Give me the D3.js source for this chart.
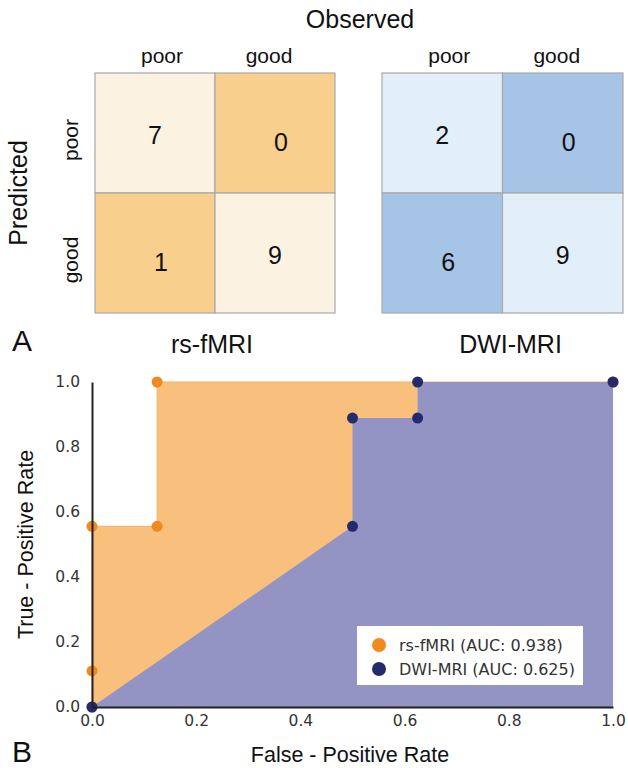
<!DOCTYPE html>
<html>
<head>
<meta charset="utf-8">
<script src="https://cdn.jsdelivr.net/npm/d3@7"></script>
<style>
  body { margin: 0; background: #fff; }
  svg { display: block; }
  .sans { font-family: "Liberation Sans", Arial, sans-serif; }
  .dv { font-family: "DejaVu Sans", sans-serif; }
</style>
</head>
<body>
<svg id="fig" width="628" height="768"></svg>
<script>
// confusion matrices (rows = predicted, cols = observed)
var classes = ["poor", "good"];
var models = ["rs-fMRI", "DWI-MRI"];
var rsCounts = [[7, 0], [1, 9]];
var dwiCounts = [[2, 0], [6, 9]];

// ROC curves
var rsFpr = [0, 0, 0, 0.125, 0.125, 1];
var rsTpr = [0, 0.111, 0.556, 0.556, 1, 1];
var dwiFpr = [0, 0.5, 0.5, 0.625, 0.625, 1];
var dwiTpr = [0, 0.556, 0.889, 0.889, 1, 1];
var aucLabels = ["rs-fMRI (AUC: 0.938)", "DWI-MRI (AUC: 0.625)"];
var rocTicks = [0, 0.2, 0.4, 0.6, 0.8, 1.0];

var svg = d3.select("#fig");

// ---------- panel A ----------
var matrices = [
  { name: models[0], counts: rsCounts, x0: 95, x1: 335, colors: ["#fcf2e1", "#f8cf8d"] },
  { name: models[1], counts: dwiCounts, x0: 382, x1: 623, colors: ["#e2eef8", "#a6c4e5"] }
];
var rowScale = d3.scaleBand().domain(classes).range([73, 313]);

svg.append("text").attr("class", "sans")
  .attr("x", 360).attr("y", 28)
  .attr("text-anchor", "middle").attr("font-size", 25).attr("fill", "#111")
  .text("Observed");

svg.append("text").attr("class", "sans")
  .attr("transform", "translate(27,193) rotate(-90)")
  .attr("text-anchor", "middle").attr("font-size", 25).attr("fill", "#111")
  .text("Predicted");

// row labels, rotated
svg.append("g").selectAll("text")
  .data(classes)
  .enter().append("text")
  .attr("class", "sans")
  .attr("transform", d => "translate(78," + (rowScale(d) + rowScale.bandwidth() / 2 + 7) + ") rotate(-90)")
  .attr("text-anchor", "middle").attr("font-size", 21).attr("fill", "#111")
  .text(d => d);

matrices.forEach(function(m) {
  var colScale = d3.scaleBand().domain(classes).range([m.x0, m.x1]);
  var g = svg.append("g");

  g.selectAll("text.col")
    .data(classes)
    .enter().append("text")
    .attr("class", "col sans")
    .attr("x", d => colScale(d) + colScale.bandwidth() / 2 + (d == "good" ? -6 : 7))
    .attr("y", 63)
    .attr("text-anchor", "middle").attr("font-size", 21).attr("fill", "#111")
    .text(d => d);

  var cells = [];
  m.counts.forEach(function(row, i) {
    row.forEach(function(v, j) { cells.push({ r: classes[i], c: classes[j], v: v, diag: i == j }); });
  });

  g.selectAll("rect")
    .data(cells)
    .enter().append("rect")
    .attr("x", d => colScale(d.c))
    .attr("y", d => rowScale(d.r))
    .attr("width", colScale.bandwidth())
    .attr("height", rowScale.bandwidth())
    .attr("fill", d => d.diag ? m.colors[0] : m.colors[1])
    .attr("stroke", "#a9a9a9")
    .attr("stroke-width", 1.2);

  g.selectAll("text.val")
    .data(cells)
    .enter().append("text")
    .attr("class", "val sans")
    .attr("x", d => colScale(d.c) + colScale.bandwidth() / 2 + (d.diag ? 0 : 6))
    .attr("y", d => rowScale(d.r) + rowScale.bandwidth() / 2 + (d.diag ? 2 : 9))
    .attr("dy", "0.36em")
    .attr("text-anchor", "middle").attr("font-size", 25).attr("fill", "#111")
    .text(d => d.v);

  g.append("text").attr("class", "sans")
    .attr("x", (m.x0 + m.x1) / 2 + (m.name == "rs-fMRI" ? -3 : 8))
    .attr("y", 353)
    .attr("text-anchor", "middle").attr("font-size", 25).attr("fill", "#111")
    .text(m.name);
});

svg.append("text").attr("class", "sans")
  .attr("x", 12).attr("y", 351).attr("font-size", 30).attr("fill", "#111")
  .text("A");

// ---------- panel B ----------
var x = d3.scaleLinear().domain([0, 1]).range([92, 613]);
var y = d3.scaleLinear().domain([0, 1]).range([707, 382]);

var rs = rsFpr.map((f, i) => ({ f: f, t: rsTpr[i] }));
var dwi = dwiFpr.map((f, i) => ({ f: f, t: dwiTpr[i] }));

var area = d3.area()
  .x(d => x(d.f))
  .y0(y(0))
  .y1(d => y(d.t));

var plot = svg.append("g");

plot.append("path").datum(rs)
  .attr("d", area).attr("fill", "#f8c07c");
plot.append("path").datum(rs)
  .attr("d", area.lineY1()).attr("fill", "none")
  .attr("stroke", "#f2b06a").attr("stroke-width", 1);
plot.append("path").datum(dwi)
  .attr("d", area).attr("fill", "#9394c3");

plot.append("g").selectAll("circle")
  .data(rs)
  .enter().append("circle")
  .attr("cx", d => x(d.f)).attr("cy", d => y(d.t))
  .attr("r", 5.5).attr("fill", "#f0891f");

plot.append("g").selectAll("circle")
  .data(dwi)
  .enter().append("circle")
  .attr("cx", d => x(d.f)).attr("cy", d => y(d.t))
  .attr("r", 5.5).attr("fill", "#252a6c");

// axes
var yAxis = svg.append("g")
  .attr("transform", "translate(" + x(0) + ",0)")
  .call(d3.axisLeft(y).tickValues(rocTicks).tickFormat(d3.format(".1f")).tickSize(0).tickPadding(12));
var xAxis = svg.append("g")
  .attr("transform", "translate(0," + y(0) + ")")
  .call(d3.axisBottom(x).tickValues(rocTicks).tickFormat(d3.format(".1f")).tickSize(0).tickPadding(8));

[xAxis, yAxis].forEach(function(a) {
  a.select(".domain").attr("stroke", "#222").attr("stroke-width", 2);
  a.selectAll("text").attr("class", "dv").attr("font-size", 15.5).attr("fill", "#333");
});

svg.append("text").attr("class", "sans")
  .attr("transform", "translate(33," + (y(0) + y(1)) / 2 + ") rotate(-90)")
  .attr("text-anchor", "middle").attr("font-size", 21.5).attr("fill", "#111")
  .text("True - Positive Rate");

svg.append("text").attr("class", "sans")
  .attr("x", 350).attr("y", 762)
  .attr("text-anchor", "middle").attr("font-size", 21.5).attr("fill", "#111")
  .text("False - Positive Rate");

svg.append("text").attr("class", "sans")
  .attr("x", 12).attr("y", 762).attr("font-size", 30).attr("fill", "#111")
  .text("B");

// legend
var legend = svg.append("g").attr("transform", "translate(357,626)");
legend.append("rect")
  .attr("width", 226).attr("height", 59).attr("fill", "#fff");
var items = legend.selectAll("g.item")
  .data(aucLabels)
  .enter().append("g")
  .attr("class", "item")
  .attr("transform", (d, i) => "translate(0," + (19 + i * 24) + ")");
items.append("circle")
  .attr("cx", 22).attr("r", 7)
  .attr("fill", (d, i) => i == 0 ? "#f0891f" : "#252a6c");
items.append("text").attr("class", "dv")
  .attr("x", 42).attr("dy", "0.35em")
  .attr("font-size", 16).attr("fill", "#333")
  .text(d => d);
</script>
</body>
</html>
